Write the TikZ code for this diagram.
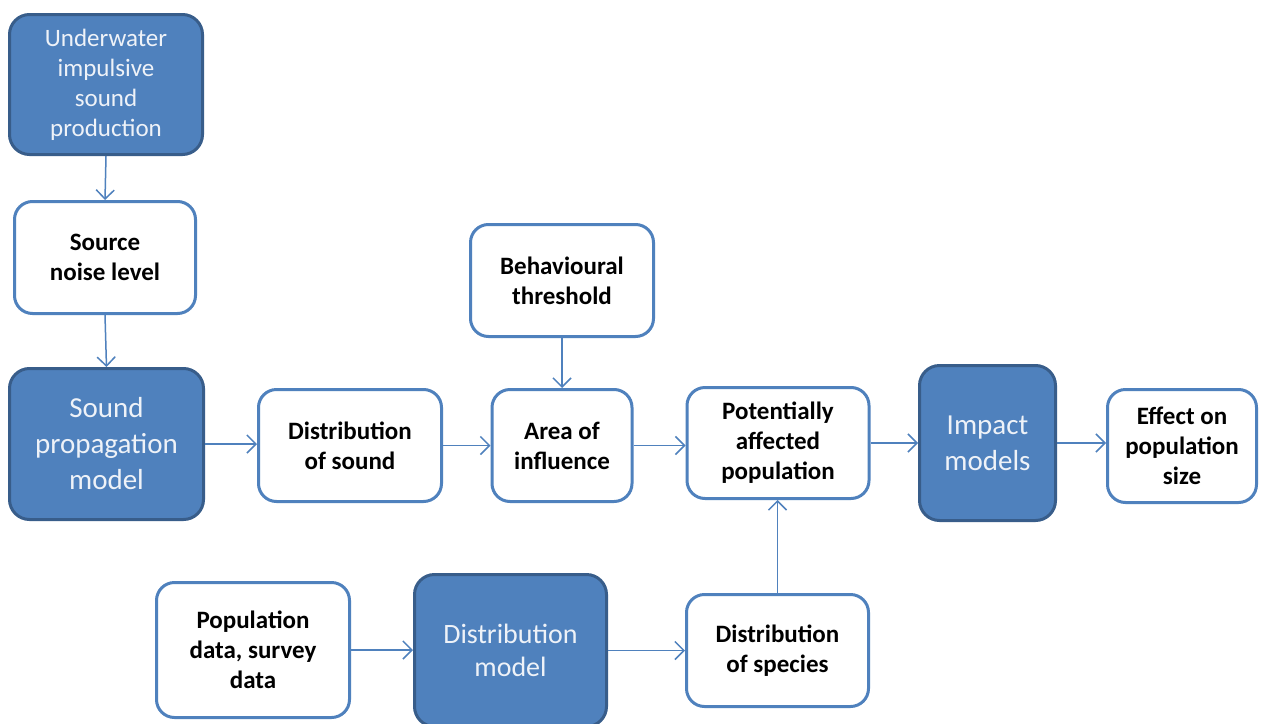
\documentclass[tikz,border=0pt]{standalone}
\usepackage{fontspec}
\setmainfont{Carlito}
\usetikzlibrary{arrows.meta}
\definecolor{fillblue}{HTML}{4F81BD}
\definecolor{darkblue}{HTML}{385D8A}
\definecolor{lineblue}{HTML}{4F81BD}
\definecolor{lighttxt}{HTML}{EEF2F8}
\begin{document}
\begin{tikzpicture}[x=1pt,y=-1pt,
  wbox/.style={draw=lineblue, line width=3pt, rounded corners=18pt, fill=white,
    align=center, inner sep=0pt, text=black,
    font=\fontsize{25}{30}\selectfont\bfseries},
  fbox/.style={draw=darkblue, line width=3pt, rounded corners=20pt, fill=fillblue,
    align=center, inner sep=0pt, text=lighttxt},
  conn/.style={draw=lineblue, line width=1.5pt,
    -{Straight Barb[length=9pt,width=18pt,line width=1.5pt]}}]
\clip (0,0) rectangle (1261,723);
\fill[white] (0,0) rectangle (1261,723);

\node[fbox, minimum width=193pt, minimum height=140pt,
  font=\fontsize{25}{30}\selectfont] (und) at (106,84.5)
  {Underwater\\impulsive\\sound\\production};
\node[wbox, minimum width=181pt, minimum height=112pt] (src) at (105,257.5)
  {Source\\noise level};
\node[fbox, minimum width=194pt, minimum height=151pt,
  font=\fontsize{29}{36}\selectfont] (prop) at (106.5,444)
  {Sound\\propagation\\model};
\node[wbox, minimum width=183pt, minimum height=112pt] (dsound) at (350,445.5)
  {Distribution\\of sound};
\node[wbox, minimum width=183pt, minimum height=112pt] (beh) at (562,280.5)
  {Behavioural\\threshold};
\node[wbox, minimum width=140pt, minimum height=112pt] (area) at (562,445.5)
  {Area of\\influence};
\node[wbox, minimum width=182pt, minimum height=111pt] (pot) at (778,443)
  {Potentially\\affected\\population};
\node[fbox, minimum width=136pt, minimum height=155pt,
  font=\fontsize{29}{36}\selectfont] (imp) at (987.5,443)
  {Impact\\models};
\node[wbox, minimum width=149pt, minimum height=113pt] (eff) at (1182,446)
  {Effect on\\population\\size};
\node[wbox, minimum width=193pt, minimum height=135pt] (pop) at (253,650)
  {Population\\data, survey\\data};
\node[fbox, minimum width=192pt, minimum height=152pt,
  font=\fontsize{28}{33}\selectfont] (dmod) at (510.5,650.5)
  {Distribution\\model};
\node[wbox, minimum width=182pt, minimum height=112pt] (dsp) at (777.5,650.5)
  {Distribution\\of species};

\draw[conn] (und.south) -- (src.north);
\draw[conn] (src.south) -- (prop.north);
\draw[conn] (prop.east) -- (prop.east -| dsound.west);
\draw[conn] (dsound.east) -- (dsound.east -| area.west);
\draw[conn] (beh.south) -- (area.north);
\draw[conn] (area.east) -- (area.east -| pot.west);
\draw[conn] (pot.east) -- (pot.east -| imp.west);
\draw[conn] (imp.east) -- (imp.east -| eff.west);
\draw[conn] (pop.east) -- (pop.east -| dmod.west);
\draw[conn] (dmod.east) -- (dmod.east -| dsp.west);
\draw[conn] (dsp.north) -- (dsp.north |- pot.south);
\end{tikzpicture}
\end{document}
